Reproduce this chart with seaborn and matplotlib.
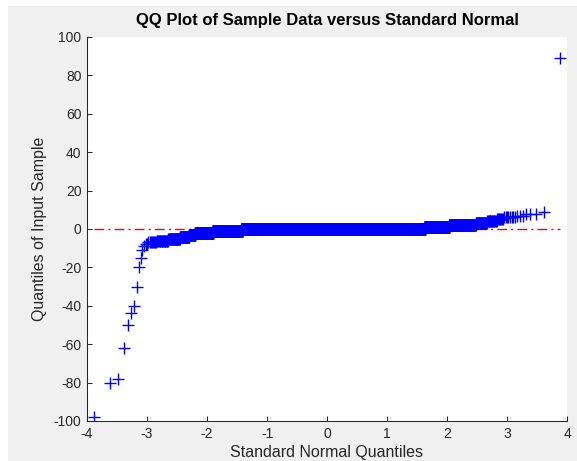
import numpy as np
import matplotlib
matplotlib.use("Agg")
import matplotlib.pyplot as plt
from matplotlib.patches import Rectangle
import seaborn as sns
from statistics import NormalDist

# integer sample values and how often each one occurs
values = [-98, -80, -78, -62, -50, -44, -40, -30, -20, -15, -11, -9, -8, -7, -6, -5, -4, -3, -2, -1,
          0, 1, 2, 3, 4, 5, 6, 7, 8, 9, 89]
counts = [1, 1, 1, 1, 1, 1, 1, 1, 1, 1, 1, 1, 2, 8, 18, 31, 36, 32, 148, 491,
          8706, 309, 141, 28, 15, 7, 8, 3, 3, 1, 1]

x_ticks = [-4, -3, -2, -1, 0, 1, 2, 3, 4]
y_ticks = [-100, -80, -60, -40, -20, 0, 20, 40, 60, 80, 100]

title = "QQ Plot of Sample Data versus Standard Normal"
x_label = "Standard Normal Quantiles"
y_label = "Quantiles of Input Sample"

sns.set_style("ticks")
plt.rcParams['font.family'] = ['Liberation Sans', 'DejaVu Sans']
plt.rcParams['axes.unicode_minus'] = False

# qq data: sorted sample vs standard normal quantiles
sample = np.sort(np.repeat(values, counts))
n = len(sample)
nd = NormalDist()
xq = np.array([nd.inv_cdf((i - 0.5) / n) for i in range(1, n + 1)])

# reference line through the quartiles
q1, q3 = np.percentile(sample, [25, 75])
x1, x3 = nd.inv_cdf(0.25), nd.inv_cdf(0.75)
slope = (q3 - q1) / (x3 - x1)
icpt = q1 - slope * x1
line_x = [xq[0], xq[-1]]
line_y = [icpt + slope * v for v in line_x]

fig = plt.figure(figsize=(5.77, 4.61), dpi=100, facecolor="white")
fig.patches.append(Rectangle((8 / 577, 0), 1 - 8 / 577, 1 - 6 / 461, transform=fig.transFigure,
                             facecolor="#f0f0f0", edgecolor="none", zorder=-10))
ax = fig.add_axes([87 / 577, 1 - 421 / 461, 480 / 577, 384 / 461])
ax.set_facecolor("white")

sns.lineplot(x=line_x, y=line_y, ax=ax, color="#ff0000", linewidth=1.0,
             linestyle=(0, (7, 3, 1.5, 3)), zorder=1)
sns.scatterplot(x=xq, y=sample, ax=ax, marker="+", color="#0000ff", s=68, linewidth=1.0, zorder=2)

ax.set_xlim(-4, 4)
ax.set_ylim(-100, 100)
ax.set_xticks(x_ticks)
ax.set_yticks(y_ticks)
ax.tick_params(direction="in", length=3.5, width=0.75, colors="#262626", labelsize=10, pad=4)
for side in ["top", "right"]:
    ax.spines[side].set_visible(False)
for side in ["left", "bottom"]:
    ax.spines[side].set_color("#262626")
    ax.spines[side].set_linewidth(0.75)

ax.set_title(title, fontsize=12, fontweight="bold", pad=9, color="black")
ax.set_xlabel(x_label, fontsize=11.5, color="#262626", labelpad=3)
ax.set_ylabel(y_label, fontsize=11.5, color="#262626", labelpad=5)

fig.savefig("out.png", dpi=100, facecolor=fig.get_facecolor())
